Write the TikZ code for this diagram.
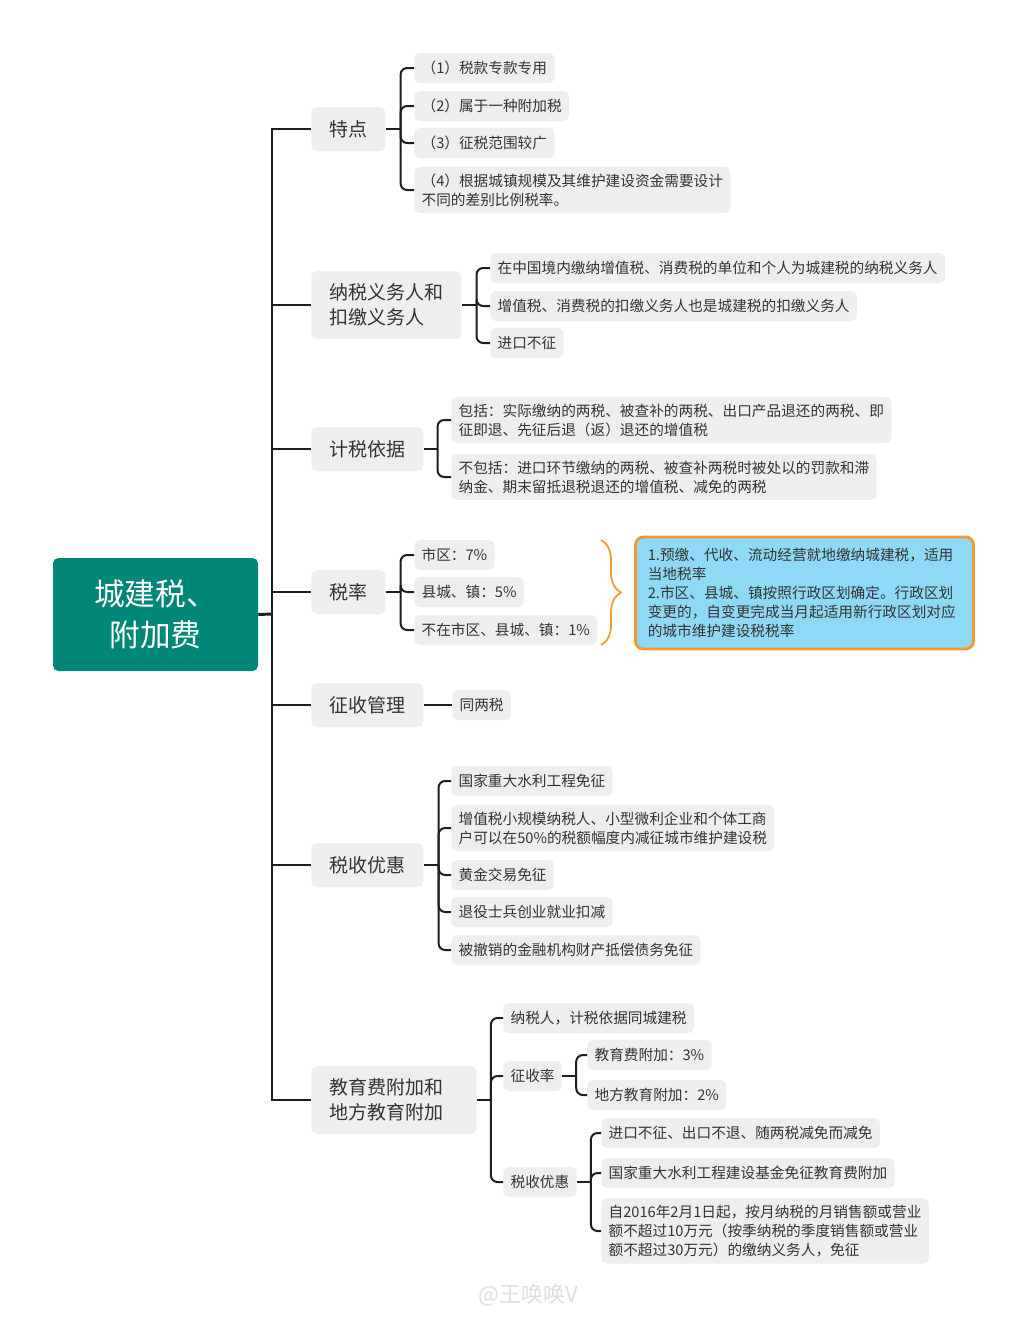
\documentclass[tikz,border=0pt]{standalone}
\usepackage{fontspec}
\setmainfont{Noto Sans CJK SC}
\usetikzlibrary{calc,decorations.pathreplacing}
\definecolor{rootgreen}{HTML}{00877A}
\definecolor{boxgray}{HTML}{EEEEEE}
\definecolor{noteblue}{HTML}{8FD9F7}
\definecolor{noteorange}{HTML}{F29B2C}
\definecolor{linegray}{HTML}{1E1E1E}
\definecolor{txtgray}{HTML}{333333}

\begin{document}
\begin{tikzpicture}[
  x=0.75pt,y=-0.75pt,
  every node/.style={text=txtgray},
  root/.style={fill=rootgreen,text=white,rounded corners=4pt,minimum width=153.75pt,
    minimum height=84.75pt,align=center,font=\fontsize{23pt}{30.75pt}\selectfont},
  topic/.style={fill=boxgray,rounded corners=4pt,anchor=west,inner xsep=13.5pt,inner ysep=9.5pt,
    minimum height=33pt,align=left,font=\fontsize{14.25pt}{18.75pt}\selectfont},
  leaf/.style={fill=boxgray,rounded corners=4pt,anchor=west,inner xsep=5.5pt,inner ysep=5pt,
    minimum height=22.5pt,align=left,font=\fontsize{11pt}{14.25pt}\selectfont},
  note/.style={fill=noteblue,draw=noteorange,line width=2.2pt,rounded corners=6pt,anchor=west,
    text width=235pt,inner xsep=9.25pt,minimum height=84pt,align=left,
    font=\fontsize{11pt}{14.25pt}\selectfont},
  trunk/.style={draw=linegray,line width=2.2pt},
  link/.style={draw=linegray,line width=1.5pt,rounded corners=5pt},
  brc/.style={draw=noteorange,line width=1.3pt,decorate,decoration={brace,amplitude=15pt}}
]
\fill[white] (0,0) rectangle (1024,1318);
\useasboundingbox (0,0) rectangle (1024,1318);

% root and first level
\node[root] (root) at (155.5,614.5) {城建税、\\附加费};
\node[topic] (td) at (311,129) {特点};
\node[topic] (nsr) at (311,305) {纳税义务人和\\扣缴义务人};
\node[topic] (jsyj) at (311,449) {计税依据};
\node[topic] (sl) at (311,592) {税率};
\node[topic] (zsgl) at (311,705) {征收管理};
\node[topic] (ssyh) at (311,865) {税收优惠};
\node[topic,text width=97pt] (jyf) at (311,1100) {教育费附加和\\地方教育附加};

\coordinate (hub) at (272,614);
\draw[trunk] (root.east) -- (hub);
\foreach \t in {td,nsr,jsyj,sl,zsgl,ssyh,jyf}
  \draw[trunk] (hub) |- (\t.west);

% 特点
\node[leaf] (td1) at (414,68) {（1）税款专款专用};
\node[leaf] (td2) at (414,106) {（2）属于一种附加税};
\node[leaf] (td3) at (414,143) {（3）征税范围较广};
\node[leaf] (td4) at (414,190) {（4）根据城镇规模及其维护建设资金需要设计\\不同的差别比例税率。};
\coordinate (tdb) at ($(td.east)+(15,0)$);
\draw[link] (td.east) -- (tdb);
\foreach \c in {td1,td2,td3,td4}
  \draw[link] (tdb) |- (\c.west);

% 纳税义务人
\node[leaf] (nsr1) at (490,268) {在中国境内缴纳增值税、消费税的单位和个人为城建税的纳税义务人};
\node[leaf] (nsr2) at (490,306) {增值税、消费税的扣缴义务人也是城建税的扣缴义务人};
\node[leaf] (nsr3) at (490,343) {进口不征};
\coordinate (nsrb) at ($(nsr.east)+(15,0)$);
\draw[link] (nsr.east) -- (nsrb);
\foreach \c in {nsr1,nsr2,nsr3}
  \draw[link] (nsrb) |- (\c.west);

% 计税依据
\node[leaf] (jsyj1) at (451,420) {包括：实际缴纳的两税、被查补的两税、出口产品退还的两税、即\\征即退、先征后退（返）退还的增值税};
\node[leaf] (jsyj2) at (451,477) {不包括：进口环节缴纳的两税、被查补两税时被处以的罚款和滞\\纳金、期末留抵退税退还的增值税、减免的两税};
\coordinate (jsyjb) at ($(jsyj.east)+(14,0)$);
\draw[link] (jsyj.east) -- (jsyjb);
\foreach \c in {jsyj1,jsyj2}
  \draw[link] (jsyjb) |- (\c.west);

% 税率
\node[leaf] (sl1) at (414,555) {市区：7\%};
\node[leaf] (sl2) at (414,592) {县城、镇：5\%};
\node[leaf] (sl3) at (414,630) {不在市区、县城、镇：1\%};
\coordinate (slb) at ($(sl.east)+(15,0)$);
\draw[link] (sl.east) -- (slb);
\foreach \c in {sl1,sl2,sl3}
  \draw[link] (slb) |- (\c.west);
\draw[brc] (601,540) -- (601,645);
\node[note] (slnote) at (634,593) {1.预缴、代收、流动经营就地缴纳城建税，适用\\当地税率\\2.市区、县城、镇按照行政区划确定。行政区划\\变更的，自变更完成当月起适用新行政区划对应\\的城市维护建设税税率};

% 征收管理
\node[leaf] (zsgl1) at (452,705) {同两税};
\draw[link] (zsgl.east) -- (zsgl1.west);

% 税收优惠
\node[leaf] (ssyh1) at (451,781) {国家重大水利工程免征};
\node[leaf] (ssyh2) at (451,828) {增值税小规模纳税人、小型微利企业和个体工商\\户可以在50\%的税额幅度内减征城市维护建设税};
\node[leaf] (ssyh3) at (451,875) {黄金交易免征};
\node[leaf] (ssyh4) at (451,912) {退役士兵创业就业扣减};
\node[leaf] (ssyh5) at (451,950) {被撤销的金融机构财产抵偿债务免征};
\coordinate (ssyhb) at ($(ssyh.east)+(15,0)$);
\draw[link] (ssyh.east) -- (ssyhb);
\foreach \c in {ssyh1,ssyh2,ssyh3,ssyh4,ssyh5}
  \draw[link] (ssyhb) |- (\c.west);

% 教育费附加和地方教育附加
\node[leaf] (jyf1) at (503,1018) {纳税人，计税依据同城建税};
\node[leaf] (jyf2) at (503,1076) {征收率};
\node[leaf] (jyf3) at (503,1182) {税收优惠};
\coordinate (jyfb) at ($(jyf.east)+(14,0)$);
\draw[link] (jyf.east) -- (jyfb);
\foreach \c in {jyf1,jyf2,jyf3}
  \draw[link] (jyfb) |- (\c.west);

\node[leaf] (jyf2a) at (587,1055) {教育费附加：3\%};
\node[leaf] (jyf2b) at (587,1095) {地方教育附加：2\%};
\coordinate (jyf2k) at ($(jyf2.east)+(14,0)$);
\draw[link] (jyf2.east) -- (jyf2k);
\foreach \c in {jyf2a,jyf2b}
  \draw[link] (jyf2k) |- (\c.west);

\node[leaf] (jyf3a) at (601,1133) {进口不征、出口不退、随两税减免而减免};
\node[leaf] (jyf3b) at (601,1173) {国家重大水利工程建设基金免征教育费附加};
\node[leaf] (jyf3c) at (601,1231) {自2016年2月1日起，按月纳税的月销售额或营业\\额不超过10万元（按季纳税的季度销售额或营业\\额不超过30万元）的缴纳义务人，免征};
\coordinate (jyf3k) at ($(jyf3.east)+(14,0)$);
\draw[link] (jyf3.east) -- (jyf3k);
\foreach \c in {jyf3a,jyf3b,jyf3c}
  \draw[link] (jyf3k) |- (\c.west);

% watermark
\node[text=gray!25,font=\fontsize{16.5pt}{20pt}\selectfont] (mark) at (528,1295) {@王唤唤V};
\end{tikzpicture}
\end{document}
